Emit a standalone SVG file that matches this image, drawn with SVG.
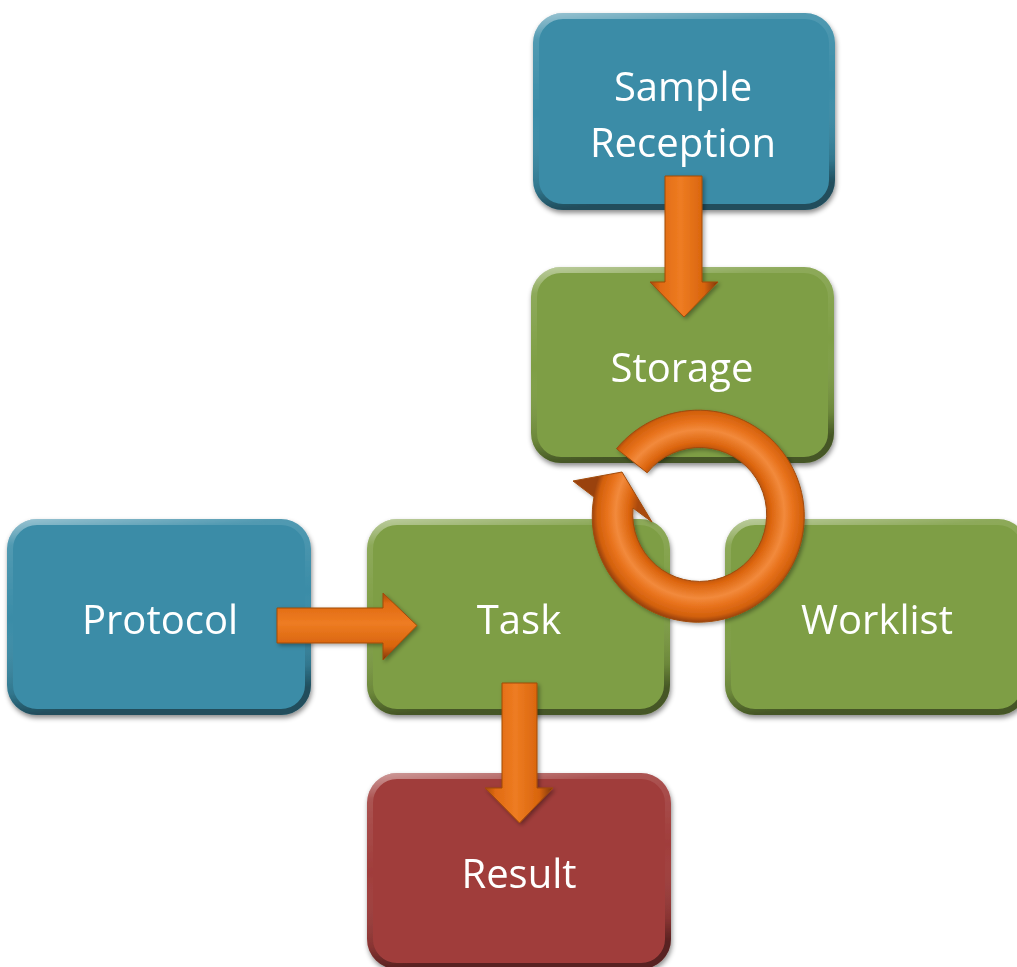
<svg xmlns="http://www.w3.org/2000/svg" width="1017" height="967" viewBox="0 0 1017 967">
  <defs>
    <filter id="shadow" x="-10%" y="-10%" width="120%" height="125%">
      <feDropShadow dx="1" dy="3" stdDeviation="2.5" flood-color="#000" flood-opacity="0.45"/>
    </filter>
    <filter id="ashadow" x="-20%" y="-20%" width="140%" height="140%">
      <feDropShadow dx="2" dy="2" stdDeviation="2" flood-color="#000" flood-opacity="0.35"/>
    </filter>
    <linearGradient id="bevel" x1="0" y1="0" x2="0.15" y2="1">
      <stop offset="0" stop-color="#fff" stop-opacity="0.45"/>
      <stop offset="0.12" stop-color="#fff" stop-opacity="0.12"/>
      <stop offset="0.5" stop-color="#fff" stop-opacity="0"/>
      <stop offset="0.88" stop-color="#000" stop-opacity="0.15"/>
      <stop offset="1" stop-color="#000" stop-opacity="0.45"/>
    </linearGradient>
    <linearGradient id="vArrow" x1="0" y1="0" x2="1" y2="0">
      <stop offset="0" stop-color="#A84A08"/>
      <stop offset="0.15" stop-color="#E06A12"/>
      <stop offset="0.45" stop-color="#EE7C22"/>
      <stop offset="0.8" stop-color="#D8640C"/>
      <stop offset="1" stop-color="#7A3605"/>
    </linearGradient>
    <linearGradient id="hArrow" x1="0" y1="0" x2="0" y2="1">
      <stop offset="0" stop-color="#A84A08"/>
      <stop offset="0.15" stop-color="#E06A12"/>
      <stop offset="0.45" stop-color="#EE7C22"/>
      <stop offset="0.8" stop-color="#D8640C"/>
      <stop offset="1" stop-color="#7A3605"/>
    </linearGradient>
    <radialGradient id="ringGrad" gradientUnits="userSpaceOnUse" cx="700" cy="514" r="108">
      <stop offset="0.58" stop-color="#A9490A"/>
      <stop offset="0.66" stop-color="#DC650E"/>
      <stop offset="0.78" stop-color="#F28A3C"/>
      <stop offset="0.86" stop-color="#E8721C"/>
      <stop offset="0.95" stop-color="#D2600C"/>
      <stop offset="1" stop-color="#9A4208"/>
    </radialGradient>
    <style>
      .box { stroke: none; }
      .bev { fill: none; stroke: url(#bevel); stroke-width: 6; }
      .blue { fill: #3A8CA7; }
      .green { fill: #7E9E44; }
      .red { fill: #A03D3B; }
      .lbl { font-family: "Open Sans", "Liberation Sans", sans-serif; font-size: 40px; fill: #FFFFFF; text-anchor: middle; }
      .arr { stroke: #A04A08; stroke-width: 1; stroke-linejoin: round; }
    </style>
  </defs>

  <g id="node-sample-reception" filter="url(#shadow)">
    <rect class="box blue" x="533" y="13" width="302" height="197" rx="30"/>
    <rect class="bev" x="536" y="16" width="296" height="191" rx="27"/>
    <text class="lbl" x="683" y="101">Sample</text>
    <text class="lbl" x="683" y="157">Reception</text>
  </g>

  <g id="node-storage" filter="url(#shadow)">
    <rect class="box green" x="531" y="267" width="303" height="196" rx="30"/>
    <rect class="bev" x="534" y="270" width="297" height="190" rx="27"/>
    <text class="lbl" x="682" y="382">Storage</text>
  </g>

  <g id="node-protocol" filter="url(#shadow)">
    <rect class="box blue" x="7" y="519" width="304" height="196" rx="30"/>
    <rect class="bev" x="10" y="522" width="298" height="190" rx="27"/>
    <text class="lbl" x="160" y="634">Protocol</text>
  </g>

  <g id="node-task" filter="url(#shadow)">
    <rect class="box green" x="367" y="519" width="303" height="196" rx="30"/>
    <rect class="bev" x="370" y="522" width="297" height="190" rx="27"/>
    <text class="lbl" x="519" y="634">Task</text>
  </g>

  <g id="node-worklist" filter="url(#shadow)">
    <rect class="box green" x="725" y="519" width="303" height="196" rx="30"/>
    <rect class="bev" x="728" y="522" width="297" height="190" rx="27"/>
    <text class="lbl" x="877" y="634">Worklist</text>
  </g>

  <g id="node-result" filter="url(#shadow)">
    <rect class="box red" x="367" y="773" width="304" height="196" rx="30"/>
    <rect class="bev" x="370" y="776" width="298" height="190" rx="27"/>
    <text class="lbl" x="519" y="888">Result</text>
  </g>

  <g id="connectors" filter="url(#ashadow)">
    <polygon class="arr" fill="url(#vArrow)" points="665,176 702,176 702,282 718,282 684,317 650,282 665,282"/>
    <polygon class="arr" fill="url(#hArrow)" points="277,608 383,608 383,593 417,625.5 383,660 383,643 277,643"/>
    <polygon class="arr" fill="url(#vArrow)" points="502,683 537,683 537,788 553,788 519.5,823 485,788 502,788"/>
    <path class="arr" fill="url(#ringGrad)" d="M 616.5 448.7 A 106 106 0 1 1 594 497 L 573 481 L 622 472 L 652 522 L 633 508 A 67 67 0 1 0 647.2 472.8 Z"/>
  </g>
</svg>
